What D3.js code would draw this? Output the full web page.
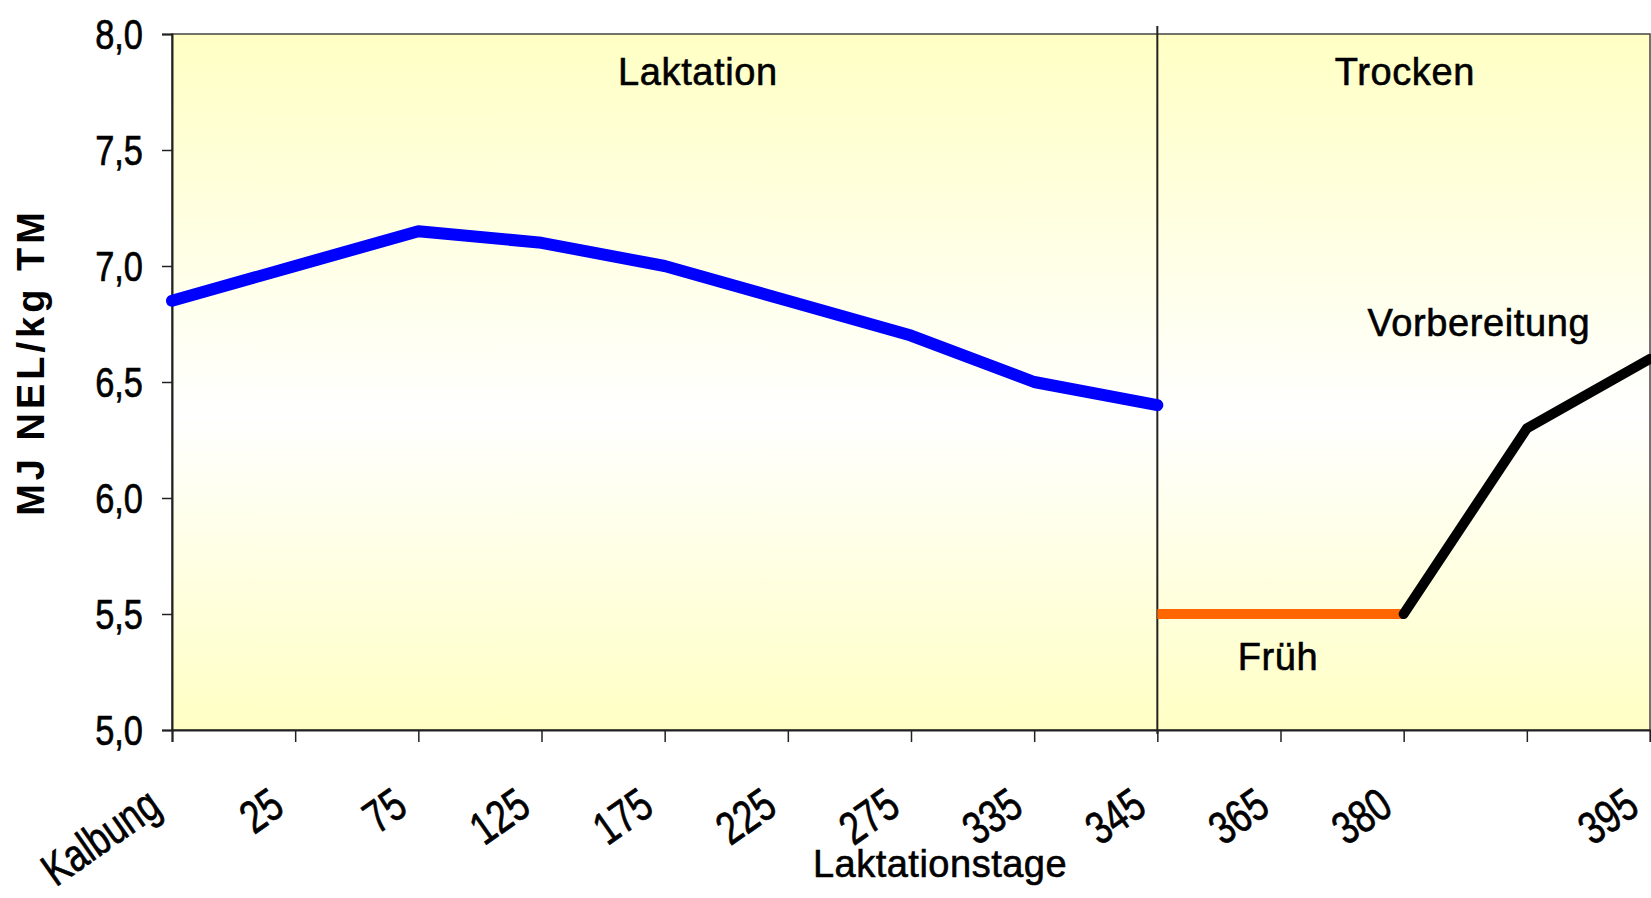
<!DOCTYPE html>
<html>
<head>
<meta charset="utf-8">
<script src="https://cdn.jsdelivr.net/npm/d3@7"></script>
<style>
  body { margin: 0; background: #fff; }
  svg { display: block; font-family: "Liberation Sans", Arial, sans-serif; }
</style>
</head>
<body>
<svg id="chart"></svg>
<script>
// Kategorien (Laktationstage) und Tick-Beschriftungen
const categories = ["Kalbung", "25", "75", "125", "175", "225", "275", "335", "345", "365", "380", "", "395"];
const yTicks = [5.0, 5.5, 6.0, 6.5, 7.0, 7.5, 8.0];

// Serien: [Kategorie-Index, MJ NEL/kg TM]
const laktation = [[0, 6.85], [1, 7.0], [2, 7.15], [3, 7.1], [4, 7.0], [5, 6.85], [6, 6.7], [7, 6.5], [8, 6.4]];
const frueh = [[8, 5.5], [9, 5.5], [10, 5.5]];
const vorbereitung = [[10, 5.5], [11, 6.3], [12, 6.6]];

// Beschriftungen im Diagramm: [Text, Kategorie-Index, Wert]
const annotations = [["Laktation", 4.27, 7.78], ["Trocken", 10.01, 7.78], ["Vorbereitung", 10.61, 6.70], ["Früh", 8.98, 5.26]];

function drawChart() {
    const W = 1651, H = 898;
    const margin = { top: 34, right: 1, bottom: 168, left: 172 };
    const width = W - margin.left - margin.right;
    const height = H - margin.top - margin.bottom;

    const svg = d3.select("#chart").attr("width", W).attr("height", H);

    // Hintergrundverlauf gelb - weiss - gelb
    const grad = svg.append("defs").append("linearGradient")
        .attr("id", "bg").attr("x1", 0).attr("y1", 0).attr("x2", 0).attr("y2", 1);
    grad.append("stop").attr("offset", "0%").attr("stop-color", "#ffffc4");
    grad.append("stop").attr("offset", "55%").attr("stop-color", "#ffffff");
    grad.append("stop").attr("offset", "100%").attr("stop-color", "#ffffc4");

    const g = svg.append("g").attr("transform", `translate(${margin.left},${margin.top})`);

    const x = d3.scalePoint().domain(d3.range(categories.length)).range([0, width]);
    const y = d3.scaleLinear().domain([5, 8]).range([height, 0]);

    g.append("rect")
        .attr("width", width).attr("height", height)
        .attr("fill", "url(#bg)")
        .attr("stroke", "#444").attr("stroke-width", 1.5);

    // Trennlinie Laktation / Trocken
    g.append("line")
        .attr("x1", x(8)).attr("x2", x(8))
        .attr("y1", -8).attr("y2", height + 4)
        .attr("stroke", "#222").attr("stroke-width", 2);

    // y-Achse
    const yAxis = g.append("g")
        .call(d3.axisLeft(y).tickValues(yTicks).tickSize(10)
            .tickFormat(d => d3.format(".1f")(d).replace(".", ",")));
    yAxis.select(".domain").attr("stroke", "#222").attr("stroke-width", 2);
    yAxis.selectAll(".tick line").attr("stroke", "#222").attr("stroke-width", 1.5);
    yAxis.selectAll("text")
        .attr("x", 0).attr("dy", "0.33em")
        .attr("transform", "translate(-29,0) scale(0.8,1)")
        .style("font-size", "43px").attr("fill", "#000")
        .attr("stroke", "#000").attr("stroke-width", 0.7);

    // x-Achse
    const xAxis = g.append("g")
        .attr("transform", `translate(0,${height})`)
        .call(d3.axisBottom(x).tickSize(12).tickFormat(i => categories[i]));
    xAxis.select(".domain").attr("stroke", "#222").attr("stroke-width", 2);
    xAxis.selectAll(".tick line").attr("stroke", "#222").attr("stroke-width", 1.5);
    xAxis.selectAll("text")
        .attr("x", 0).attr("y", 0).attr("dy", 0)
        .attr("transform", "translate(-9,82) rotate(-35) scale(0.78,1)")
        .style("text-anchor", "end")
        .style("font-size", "46px").attr("fill", "#000")
        .attr("stroke", "#000").attr("stroke-width", 0.7);

    // Linien
    const line = d3.line().x(d => x(d[0])).y(d => y(d[1]));
    const series = [[laktation, "#0000ff", 12], [frueh, "#ff6600", 10], [vorbereitung, "#000000", 10]];
    g.selectAll(".serie")
        .data(series)
        .enter()
        .append("path")
          .attr("class", "serie")
          .attr("d", d => line(d[0]))
          .attr("fill", "none")
          .attr("stroke", d => d[1])
          .attr("stroke-width", d => d[2])
          .attr("stroke-linejoin", "round")
          .attr("stroke-linecap", d => d[1] === "#ff6600" ? "butt" : "round");

    // Beschriftungen im Diagramm
    g.selectAll(".anno")
        .data(annotations)
        .enter()
        .append("text")
          .attr("class", "anno")
          .attr("x", d => x.step() * d[1])
          .attr("y", d => y(d[2]))
          .attr("text-anchor", "middle")
          .style("font-size", "38px")
          .style("letter-spacing", "0.6px")
          .attr("stroke", "#000").attr("stroke-width", 0.6)
          .text(d => d[0]);

    // Achsentitel
    svg.append("text")
        .attr("transform", "translate(44,362) rotate(-90)")
        .attr("text-anchor", "middle")
        .style("font-size", "38px").style("font-weight", "bold")
        .style("letter-spacing", "4px")
        .text("MJ NEL/kg TM");

    svg.append("text")
        .attr("x", 940).attr("y", 877)
        .attr("text-anchor", "middle")
        .style("font-size", "38px")
        .style("letter-spacing", "0.5px")
        .attr("stroke", "#000").attr("stroke-width", 0.6)
        .text("Laktationstage");
}

drawChart();
</script>
</body>
</html>
